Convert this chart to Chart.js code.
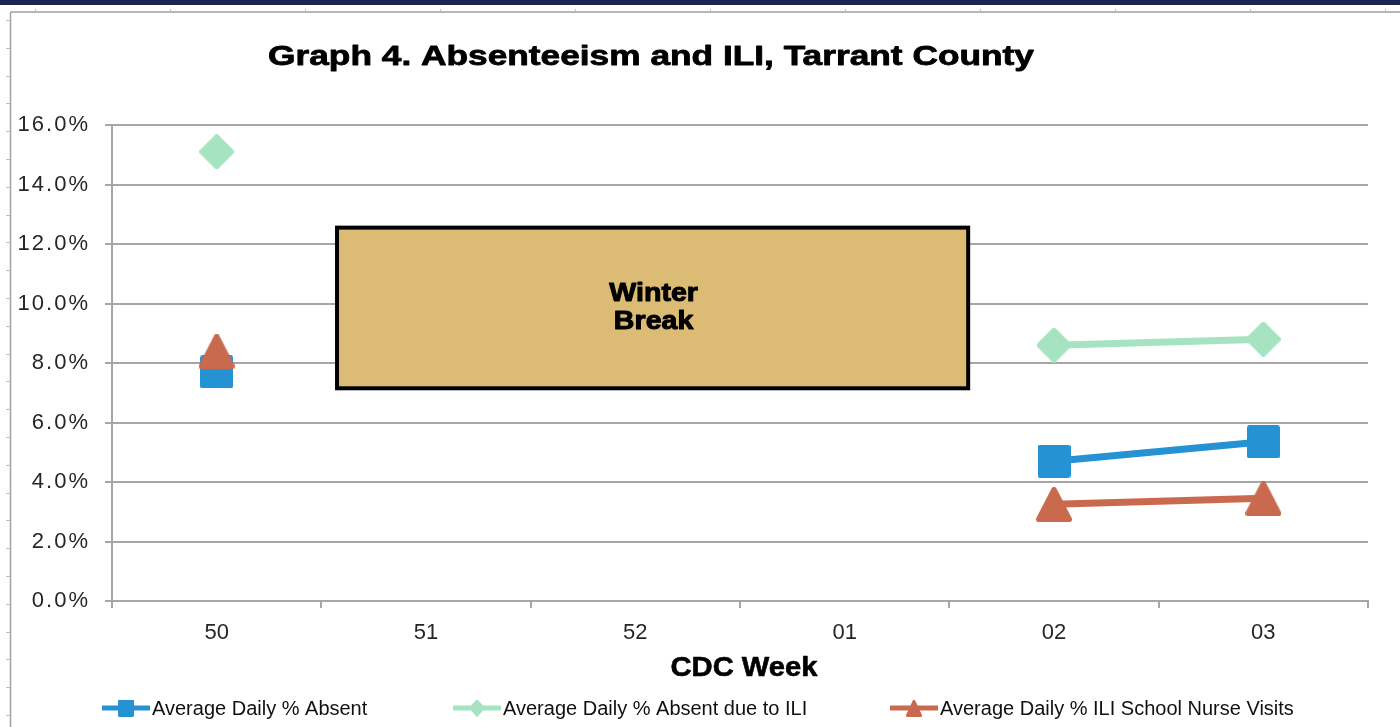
<!DOCTYPE html>
<html>
<head>
<meta charset="utf-8">
<script src="https://cdn.jsdelivr.net/npm/chart.js@4/dist/chart.umd.min.js"></script>
<style>
html,body{margin:0;padding:0;background:#fff;}
#wrap{width:1400px;height:727px;position:relative;}
</style>
</head>
<body>
<div id="wrap"><canvas id="c" width="1400" height="727"></canvas></div>
<script>
const weeks = ['50', '51', '52', '01', '02', '03'];
const absent = [7.7, null, null, null, 4.7, 5.35];
const absentILI = [15.1, null, null, null, 8.6, 8.8];
const nurseILI = [8.4, null, null, null, 3.25, 3.45];
const seriesNames = ['Average Daily % Absent', 'Average Daily % Absent due to ILI', 'Average Daily % ILI School Nurse Visits'];
const titleText = 'Graph 4. Absenteeism and ILI, Tarrant County';
const xTitle = 'CDC Week';
const breakLines = ['Winter', 'Break'];

const FONT = '"Liberation Sans", Arial, sans-serif';
const colors = ['#2492d3', '#a6e3c0', '#c96a4f'];

function makeMarker(shape, color) {
  const c = document.createElement('canvas');
  const size = { rect: [33, 33], rectRot: [35, 35], triangle: [36, 35] }[shape];
  c.width = size[0]; c.height = size[1];
  const g = c.getContext('2d');
  g.fillStyle = color; g.strokeStyle = color;
  g.lineJoin = 'round'; g.lineWidth = 5;
  g.beginPath();
  if (shape === 'rect') {
    g.rect(2.5, 2.5, 28, 28);
  } else if (shape === 'rectRot') {
    g.moveTo(17.5, 2.5); g.lineTo(32.5, 17.5); g.lineTo(17.5, 32.5); g.lineTo(2.5, 17.5); g.closePath();
  } else {
    g.moveTo(18, 2.5); g.lineTo(33.5, 32.5); g.lineTo(2.5, 32.5); g.closePath();
  }
  g.fill(); g.stroke();
  return c;
}
const markerShapes = ['rect', 'rectRot', 'triangle'];
const markers = markerShapes.map((s, i) => makeMarker(s, colors[i]));

function boldText(ctx, text, x, y, size, sx, stroke) {
  ctx.save();
  ctx.translate(x, y);
  ctx.scale(sx, 1);
  ctx.font = 'bold ' + size + 'px ' + FONT;
  ctx.textAlign = 'center';
  ctx.textBaseline = 'middle';
  ctx.fillStyle = '#000';
  ctx.fillText(text, 0, 0);
  if (stroke) { ctx.lineWidth = stroke; ctx.strokeStyle = '#000'; ctx.lineJoin = 'round'; ctx.strokeText(text, 0, 0); }
  ctx.restore();
}

const decor = {
  id: 'decor',
  beforeDraw(chart) {
    const ctx = chart.ctx;
    ctx.save();
    ctx.fillStyle = '#fff';
    ctx.fillRect(0, 0, 1400, 727);
    ctx.fillStyle = '#1d2550';
    ctx.fillRect(0, 0, 1400, 5);
    ctx.strokeStyle = '#a0a0a0';
    ctx.lineWidth = 1.5;
    ctx.beginPath();
    ctx.moveTo(10.5, 12); ctx.lineTo(1400, 12);
    ctx.moveTo(10.5, 12); ctx.lineTo(10.5, 727);
    ctx.stroke();
    ctx.lineWidth = 1;
    ctx.strokeStyle = '#c0c0c0';
    ctx.beginPath();
    for (let y = 20; y < 727; y += 27.8) { ctx.moveTo(6, Math.round(y) + 0.5); ctx.lineTo(10, Math.round(y) + 0.5); }
    for (let x = 35; x < 1400; x += 135) { ctx.moveTo(Math.round(x) + 0.5, 9); ctx.lineTo(Math.round(x) + 0.5, 12); }
    ctx.stroke();
    ctx.restore();
  },
  beforeDatasetsDraw(chart) {
    const ctx = chart.ctx, xs = chart.scales.x, ys = chart.scales.y;
    const x0 = xs.getPixelForValue(0.575), x1 = xs.getPixelForValue(3.59);
    const y0 = ys.getPixelForValue(12.55), y1 = ys.getPixelForValue(7.15);
    ctx.save();
    ctx.fillStyle = '#dcbb74';
    ctx.fillRect(x0, y0, x1 - x0, y1 - y0);
    ctx.strokeStyle = '#000';
    ctx.lineWidth = 4;
    ctx.strokeRect(x0, y0, x1 - x0, y1 - y0);
    const cx = (x0 + x1) / 2 + 1, cy = (y0 + y1) / 2;
    boldText(ctx, breakLines[0], cx, cy - 14, 26, 1.1, 1);
    boldText(ctx, breakLines[1], cx, cy + 14, 26, 1.1, 1);
    ctx.restore();
  },
  afterDraw(chart) {
    const ctx = chart.ctx;
    boldText(ctx, titleText, 651, 57, 28, 1.26, 0.8);
    boldText(ctx, xTitle, 744, 669, 27, 1.08, 0.6);
    // legend
    const starts = [102, 453, 890];
    ctx.save();
    ctx.font = '20px ' + FONT;
    ctx.textAlign = 'left';
    ctx.textBaseline = 'middle';
    chart.data.datasets.forEach((ds, i) => {
      const sx = starts[i], y = 708;
      ctx.strokeStyle = ds.borderColor;
      ctx.lineWidth = 5;
      ctx.beginPath(); ctx.moveTo(sx, y); ctx.lineTo(sx + 48, y); ctx.stroke();
      const m = ds.pointStyle;
      ctx.drawImage(m, sx + 24 - 8, y - 8.5, 16, 17);
      ctx.fillStyle = '#111';
      ctx.fillText(ds.label, sx + 50, y + 1);
    });
    ctx.restore();
  }
};

new Chart(document.getElementById('c'), {
  type: 'line',
  data: {
    labels: weeks,
    datasets: [
      { label: seriesNames[0], data: absent, borderColor: colors[0], backgroundColor: colors[0], borderWidth: 7,
        pointStyle: markers[0], pointRadius: 17, order: 1 },
      { label: seriesNames[1], data: absentILI, borderColor: colors[1], backgroundColor: colors[1], borderWidth: 7,
        pointStyle: markers[1], pointRadius: 17, order: 1 },
      { label: seriesNames[2], data: nurseILI, borderColor: colors[2], backgroundColor: colors[2], borderWidth: 7,
        pointStyle: markers[2], pointRadius: 17, order: 0 }
    ]
  },
  options: {
    responsive: false,
    animation: false,
    spanGaps: false,
    layout: { padding: { top: 125, right: 32, bottom: 0, left: 0 } },
    plugins: { legend: { display: false }, title: { display: false }, tooltip: { enabled: false } },
    scales: {
      x: {
        offset: true,
        afterFit(s) { s.height = 126; },
        grid: { drawOnChartArea: false, drawTicks: true, tickLength: 7, color: '#a6a6a6', lineWidth: 2, offset: true },
        border: { color: '#a6a6a6', width: 2 },
        ticks: { font: { family: FONT, size: 22 }, color: '#262626', padding: 12, maxRotation: 0 }
      },
      y: {
        min: 0, max: 16,
        afterFit(s) {
          s.width = 112;
          if (!s._spaced) {
            s._spaced = true;
            const orig = s.drawLabels.bind(s);
            s.drawLabels = function (area) {
              const ctx = s.ctx;
              ctx.save();
              ctx.letterSpacing = '2px';
              orig(area);
              ctx.restore();
            };
          }
        },
        grid: { color: '#a6a6a6', lineWidth: 2, tickLength: 7 },
        border: { color: '#a6a6a6', width: 2 },
        ticks: { stepSize: 2, font: { family: FONT, size: 22 }, color: '#262626', padding: 15,
          callback: v => v.toFixed(1) + '%' }
      }
    }
  },
  plugins: [decor]
});
</script>
</body>
</html>
